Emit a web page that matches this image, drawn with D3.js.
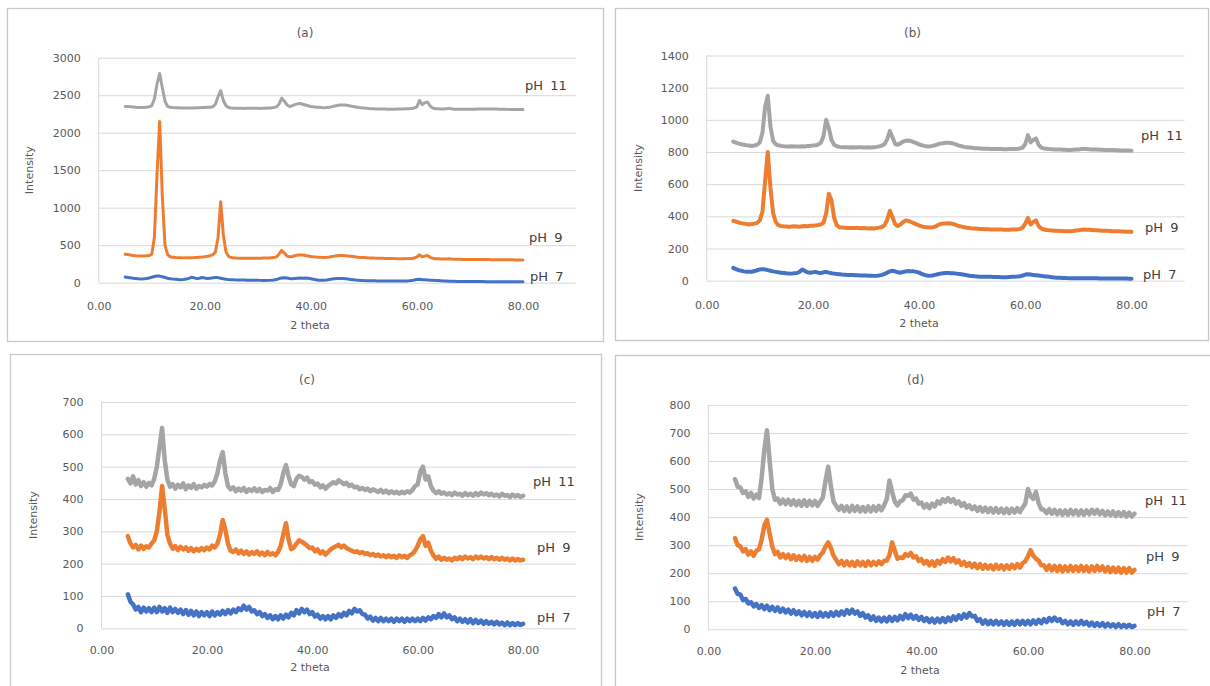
<!DOCTYPE html>
<html>
<head>
<meta charset="utf-8">
<script src="https://cdn.jsdelivr.net/npm/d3@7"></script>
<style>
  html, body { margin: 0; padding: 0; background: #ffffff; }
  svg { display: block; }
</style>
</head>
<body>
<script>
// XRD patterns (2 theta vs intensity) for samples prepared at pH 7, 9 and 11.
// Every pattern is sampled on the same 2-theta grid: 5.0 to 80.0 degrees, 0.5 degree step.
const twoTheta = d3.range(151).map(i => 5 + i * 0.5);

const panelLabels = ["(a)", "(b)", "(c)", "(d)"];
const seriesNames = ["pH 7", "pH 9", "pH 11"];
const xTickValues = [0, 20, 40, 60, 80];
const yTicksA = [0, 500, 1000, 1500, 2000, 2500, 3000];
const yTicksB = [0, 200, 400, 600, 800, 1000, 1200, 1400];
const yTicksC = [0, 100, 200, 300, 400, 500, 600, 700];
const yTicksD = [0, 100, 200, 300, 400, 500, 600, 700, 800];

// ---- (a) ----
const a_pH11 = [
  2350, 2348, 2345, 2342, 2338, 2336, 2335, 2336, 2340, 2345,
  2360, 2450, 2650, 2790, 2600, 2420, 2350, 2338, 2335, 2333,
  2332, 2330, 2330, 2331, 2330, 2329, 2330, 2332, 2333, 2335,
  2336, 2338, 2340, 2345, 2380, 2480, 2560, 2430, 2360, 2335,
  2328, 2326, 2325, 2326, 2325, 2324, 2325, 2326, 2325, 2326,
  2325, 2324, 2325, 2326, 2328, 2330, 2335, 2345, 2380, 2460,
  2420, 2370, 2350, 2360, 2375, 2385, 2390, 2380, 2370, 2360,
  2350, 2345, 2340, 2338, 2335, 2333, 2335, 2340, 2348, 2355,
  2362, 2368, 2370, 2368, 2362, 2355, 2348, 2342, 2336, 2332,
  2328, 2325, 2322, 2320, 2318, 2317, 2316, 2315, 2315, 2314,
  2314, 2313, 2314, 2315, 2315, 2316, 2318, 2320, 2324, 2330,
  2345, 2430, 2375, 2400, 2410, 2355, 2330, 2320, 2318, 2316,
  2315, 2318, 2325, 2318, 2314, 2312, 2313, 2314, 2313, 2312,
  2312, 2313, 2314, 2315, 2316, 2316, 2315, 2316, 2317, 2316,
  2315, 2314, 2313, 2312, 2311, 2310, 2311, 2310, 2309, 2308,
  2308
];
const a_pH9 = [
  380, 375, 368, 362, 358, 356, 355, 356, 358, 362,
  380, 600, 1450, 2150, 1150, 500, 375, 345, 338, 335,
  333, 332, 331, 332, 333, 334, 335, 337, 340, 343,
  347, 352, 360, 372, 410, 600, 1080, 640, 410, 350,
  335, 330, 328, 327, 326, 326, 327, 326, 325, 326,
  326, 327, 328, 329, 330, 332, 335, 345, 380, 430,
  395, 355, 345, 350, 360, 368, 370, 368, 362, 356,
  350, 345, 342, 340, 338, 337, 338, 342, 348, 355,
  360, 362, 362, 360, 356, 352, 348, 344, 340, 337,
  335, 333, 331, 330, 328, 327, 326, 325, 324, 323,
  322, 322, 321, 321, 320, 320, 321, 322, 324, 328,
  345, 372, 345, 355, 362, 338, 325, 320, 318, 316,
  315, 316, 318, 315, 313, 312, 312, 311, 311, 310,
  310, 310, 309, 309, 309, 308, 308, 308, 307, 307,
  307, 306, 306, 306, 305, 305, 305, 304, 304, 304,
  303
];
const a_pH7 = [
  75, 70, 65, 60, 56, 52, 50, 52, 56, 62,
  72, 82, 90, 88, 80, 70, 60, 52, 48, 45,
  42, 40, 42, 48, 58, 72, 65, 55, 60, 70,
  62, 55, 58, 65, 70, 68, 60, 52, 45, 42,
  40, 38, 37, 36, 35, 35, 34, 33, 33, 32,
  32, 31, 30, 30, 31, 33, 36, 42, 55, 62,
  66, 62, 55, 52, 56, 60, 62, 60, 62, 58,
  52, 45, 38, 34, 32, 33, 36, 42, 48, 52,
  55, 56, 55, 52, 48, 44, 40, 36, 33, 30,
  28, 27, 26, 25, 25, 24, 24, 24, 23, 23,
  23, 22, 22, 22, 22, 23, 24, 25, 28, 35,
  42, 45, 40, 38, 36, 34, 32, 30, 28, 26,
  24, 22, 20, 19, 18, 17, 17, 16, 16, 16,
  16, 15, 15, 15, 15, 15, 14, 14, 14, 14,
  14, 14, 14, 13, 13, 13, 13, 12, 12, 12,
  12
];

// ---- (b) ----
const b_pH11 = [
  865, 858, 852, 848, 845, 842, 840, 838, 840, 845,
  860, 920, 1080, 1150, 960, 870, 848, 842, 838, 836,
  835, 834, 836, 835, 834, 835, 836, 835, 837, 838,
  840, 842, 846, 858, 900, 1000, 950, 875, 845, 836,
  832, 830, 829, 830, 828, 829, 828, 830, 829, 828,
  828, 829, 828, 830, 832, 835, 840, 850, 880, 930,
  890, 850, 845, 855, 865, 870, 872, 868, 862, 855,
  848, 842, 838, 836, 835, 838, 842, 848, 852, 855,
  857, 858, 856, 852, 846, 840, 836, 832, 830, 828,
  826, 824, 823, 822, 821, 820, 820, 819, 819, 818,
  818, 818, 817, 817, 818, 818, 819, 820, 822, 828,
  850, 905, 860, 875, 885, 845, 828, 822, 820, 818,
  817, 816, 815, 815, 814, 814, 813, 813, 814, 815,
  816, 818, 819, 818, 817, 816, 815, 815, 814, 814,
  813, 813, 812, 812, 811, 811, 810, 810, 809, 809,
  808
];
const b_pH9 = [
  372, 368, 362, 358, 355, 352, 350, 352, 355, 360,
  375, 430, 620, 800, 580, 420, 365, 345, 340, 338,
  337, 336, 337, 338, 337, 336, 338, 340, 339, 341,
  342, 344, 346, 350, 360, 420, 540, 500, 390, 345,
  332, 330, 329, 328, 328, 327, 328, 327, 326, 327,
  326, 325, 326, 325, 327, 330, 334, 345, 380, 435,
  395, 350, 340, 350, 365, 375, 372, 365, 358, 350,
  343, 338, 334, 332, 330, 331, 336, 345, 352, 355,
  356, 357, 356, 352, 346, 340, 336, 332, 329, 327,
  325, 324, 323, 322, 321, 320, 320, 319, 319, 318,
  318, 318, 317, 317, 317, 318, 318, 319, 322, 330,
  355, 390, 350, 365, 375, 340, 325, 318, 315, 313,
  312, 311, 310, 309, 309, 308, 308, 308, 309, 312,
  314, 316, 318, 317, 316, 315, 314, 313, 312, 311,
  310, 310, 309, 308, 308, 307, 306, 306, 305, 305,
  304
];
const b_pH7 = [
  80, 72, 66, 62, 58, 56, 55, 56, 60, 65,
  70, 72, 70, 66, 62, 58, 55, 52, 50, 48,
  46, 45, 44, 46, 48, 55, 70, 60, 52, 50,
  52, 55, 50, 48, 52, 55, 50, 46, 44, 42,
  40, 38, 37, 36, 36, 35, 34, 34, 33, 32,
  32, 31, 31, 30, 31, 33, 36, 42, 50, 58,
  62, 58, 52, 50, 54, 58, 60, 58, 58, 55,
  50, 42, 36, 32, 30, 32, 36, 40, 44, 46,
  48, 48, 47, 46, 44, 42, 40, 37, 34, 31,
  29, 27, 26, 25, 25, 24, 24, 24, 23, 23,
  23, 22, 22, 22, 23, 24, 25, 26, 28, 32,
  38, 40, 38, 36, 34, 32, 30, 28, 26, 24,
  22, 20, 19, 18, 17, 17, 16, 16, 16, 16,
  16, 16, 15, 15, 15, 15, 15, 15, 14, 14,
  14, 14, 14, 14, 13, 13, 13, 13, 13, 12,
  12
];

// ---- (c) ----
const c_pH11 = [
  462, 448, 470, 445, 458, 440, 452, 438, 450, 442,
  462, 500, 560, 620, 520, 460, 438, 446, 432, 444,
  436, 448, 430, 442, 434, 446, 432, 440, 436, 444,
  438, 446, 442, 455, 480, 520, 545, 480, 440, 430,
  436, 424, 432, 426, 434, 422, 430, 425, 433, 424,
  431, 422, 428, 426, 434, 422, 430, 428, 445, 480,
  505, 470, 445, 440, 462, 472, 468, 460, 466, 452,
  455, 444, 448, 436, 442, 432, 440, 446, 452, 448,
  458, 452, 446, 450, 440, 444, 436, 438, 430, 434,
  428, 432, 424, 430, 426, 422, 428, 420, 426, 418,
  424, 418, 422, 416, 422, 418, 424, 420, 428, 440,
  445, 485, 500, 460, 470, 440, 425, 418, 424, 416,
  420, 414, 418, 412, 420, 414, 416, 410, 418, 412,
  416, 410, 418, 412, 420, 414, 418, 412, 416, 410,
  414, 408, 416, 410, 412, 406, 414, 408, 412, 406,
  410
];
const c_pH9 = [
  285, 262, 250, 258, 244, 256, 246, 254, 250, 262,
  272, 300, 360, 440, 370, 290, 262, 246, 254, 242,
  252, 244, 250, 240, 248, 238, 246, 240, 248, 242,
  250, 244, 256, 250, 262, 290, 335, 305, 262, 240,
  236, 244, 232, 240, 230, 238, 228, 236, 230, 238,
  228, 234, 226, 236, 228, 232, 226, 236, 255, 290,
  325, 275, 245, 250, 262, 272, 268, 262, 256, 248,
  250, 238, 244, 232, 238, 228, 236, 244, 250, 254,
  258, 250, 256, 248, 244, 240, 236, 238, 232, 236,
  230, 232, 226, 230, 224, 228, 222, 226, 220, 226,
  220, 224, 218, 226, 220, 224, 218, 226, 230, 240,
  255, 275, 285, 255, 265, 240, 225, 215, 222, 212,
  218, 212, 216, 210, 218, 214, 220, 214, 222, 216,
  220, 214, 222, 216, 222, 216, 220, 214, 220, 214,
  218, 212, 218, 212, 216, 210, 216, 210, 214, 210,
  212
];
const c_pH7 = [
  105, 82, 74, 58, 66, 50, 64, 52, 62, 50,
  64, 50, 66, 52, 62, 48, 64, 50, 60, 48,
  58, 44, 56, 42, 54, 40, 52, 38, 50, 40,
  50, 38, 52, 40, 50, 42, 54, 44, 56, 46,
  58, 50, 62, 56, 70, 58, 66, 52, 56, 44,
  50, 38, 44, 32, 40, 28, 38, 28, 40, 30,
  42, 34, 48, 40, 56, 46, 60, 50, 58, 44,
  50, 36, 42, 30, 38, 28, 38, 28, 40, 32,
  44, 36, 48, 40, 54, 46, 60, 52, 56, 44,
  42, 30, 36, 24, 32, 22, 32, 22, 30, 22,
  30, 20, 30, 22, 30, 20, 30, 22, 30, 22,
  30, 22, 32, 24, 34, 28, 38, 32, 44, 34,
  46, 34, 40, 28, 34, 22, 30, 20, 28, 18,
  28, 16, 26, 16, 24, 14, 22, 14, 20, 12,
  20, 12, 18, 10, 18, 10, 16, 10, 16, 10,
  14
];

// ---- (d) ----
const d_pH11 = [
  535, 508, 506, 486, 492, 472, 486, 466, 480, 468,
  540, 640, 710, 600, 500, 462, 466, 448, 462, 446,
  462, 444, 460, 442, 458, 440, 460, 440, 458, 442,
  458, 440, 456, 470, 530, 580, 510, 455, 440, 426,
  440, 422, 438, 420, 440, 422, 438, 420, 436, 420,
  438, 420, 438, 422, 440, 424, 442, 465, 530, 490,
  455, 442, 456, 460, 478, 476, 484, 462, 466, 448,
  452, 434, 446, 432, 448, 438, 456, 448, 464, 454,
  468, 454, 464, 448, 456, 440, 450, 434, 442, 428,
  438, 422, 436, 420, 434, 418, 432, 416, 432, 416,
  430, 414, 430, 414, 430, 416, 432, 418, 434, 448,
  500, 475, 465, 490, 450, 428, 426, 414, 428, 412,
  426, 410, 424, 408, 424, 408, 426, 410, 424, 408,
  424, 408, 424, 410, 426, 412, 426, 410, 422, 406,
  420, 406, 420, 404, 418, 404, 418, 402, 416, 402,
  412
];
const d_pH9 = [
  325, 300, 296, 278, 286, 266, 278, 262, 280, 285,
  320, 370, 390, 340, 295, 268, 276, 256, 268, 254,
  266, 250, 264, 248, 260, 246, 262, 244, 258, 244,
  258, 248, 264, 275, 295, 310, 290, 262, 248, 232,
  244, 228, 242, 228, 240, 226, 242, 228, 240, 226,
  242, 228, 240, 230, 242, 232, 244, 245, 265, 310,
  280, 252, 256, 254, 268, 262, 272, 256, 260, 244,
  250, 234, 244, 228, 242, 226, 244, 234, 250, 240,
  256, 242, 254, 238, 246, 230, 240, 226, 236, 222,
  234, 218, 232, 216, 230, 216, 228, 214, 230, 216,
  228, 214, 228, 216, 230, 218, 232, 220, 236, 242,
  260, 282, 262, 252, 245, 228, 228, 212, 228, 210,
  226, 208, 226, 206, 224, 208, 226, 208, 224, 208,
  226, 208, 224, 206, 224, 208, 226, 210, 224, 206,
  222, 204, 220, 204, 220, 202, 218, 202, 218, 202,
  212
];
const d_pH7 = [
  145, 126, 124, 104, 108, 92, 96, 82, 90, 76,
  86, 72, 84, 68, 80, 66, 78, 62, 74, 60,
  70, 56, 68, 54, 64, 50, 62, 48, 60, 46,
  58, 44, 60, 46, 58, 46, 60, 48, 62, 50,
  64, 52, 68, 56, 70, 56, 64, 48, 58, 42,
  50, 34, 46, 30, 42, 28, 42, 28, 44, 30,
  44, 32, 48, 36, 54, 40, 52, 38, 48, 34,
  44, 30, 40, 26, 38, 24, 38, 26, 40, 26,
  42, 30, 46, 34, 50, 38, 54, 42, 58, 46,
  48, 30, 36, 20, 32, 18, 30, 18, 30, 18,
  28, 16, 28, 16, 28, 16, 30, 18, 30, 18,
  30, 18, 32, 20, 34, 22, 36, 26, 40, 30,
  42, 30, 36, 22, 30, 18, 28, 16, 28, 18,
  30, 18, 26, 14, 24, 12, 22, 12, 22, 10,
  20, 10, 18, 8, 18, 8, 16, 8, 16, 8,
  12
];

const seriesColors = ["#4472C4", "#ED7D31", "#A5A5A5"];

// Page layout of the four chart boxes (pixels).
const panels = [
  { label: panelLabels[0], series: [a_pH7, a_pH9, a_pH11], yTicks: yTicksA,
    box: [7, 8, 596, 333], left: 98.7, right: 576, top: 57.7, bottom: 282.7,
    titleX: 305, titleY: 33, yTitleX: 29, tickY: 306, xTitleX: 310, xTitleY: 325,
    labelPos: [[530, 276], [529, 237], [525, 85]], stroke: 3 },
  { label: panelLabels[1], series: [b_pH7, b_pH9, b_pH11], yTicks: yTicksB,
    box: [615, 8, 593, 332], left: 706.7, right: 1184.6, top: 55.5, bottom: 280.7,
    titleX: 912.5, titleY: 32.5, yTitleX: 638, tickY: 305, xTitleX: 919, xTitleY: 323.5,
    labelPos: [[1143, 274], [1145, 227], [1141, 135.7]], stroke: 4 },
  { label: panelLabels[2], series: [c_pH7, c_pH9, c_pH11], yTicks: yTicksC,
    box: [10, 354, 591, 340], left: 101.5, right: 575.8, top: 402, bottom: 628.3,
    titleX: 307, titleY: 380, yTitleX: 33, tickY: 650, xTitleX: 310, xTitleY: 667,
    labelPos: [[537, 617], [537, 547.6], [533, 481.4]], stroke: 4.5 },
  { label: panelLabels[3], series: [d_pH7, d_pH9, d_pH11], yTicks: yTicksD,
    box: [615, 355, 600, 340], left: 708.4, right: 1187.7, top: 404.9, bottom: 629.3,
    titleX: 915.6, titleY: 380, yTitleX: 639, tickY: 651, xTitleX: 920, xTitleY: 670,
    labelPos: [[1147, 611.5], [1146, 556], [1145, 500.6]], stroke: 4.5 }
];

const FONT = "'DejaVu Sans', Verdana, sans-serif";

const svg = d3.select("body").append("svg")
  .attr("width", 1210)
  .attr("height", 686)
  .style("font-family", FONT);

svg.append("rect").attr("width", 1210).attr("height", 686).attr("fill", "#ffffff");

panels.forEach(p => {
  const g = svg.append("g");

  // chart box
  g.append("rect")
    .attr("x", p.box[0] + 0.5).attr("y", p.box[1] + 0.5)
    .attr("width", p.box[2]).attr("height", p.box[3])
    .attr("fill", "#ffffff")
    .attr("stroke", "#c9c9c9")
    .attr("stroke-width", 1.3);

  const yMax = p.yTicks[p.yTicks.length - 1];
  const x = d3.scaleLinear().domain([0, 90]).range([p.left, p.right]);
  const y = d3.scaleLinear().domain([0, yMax]).range([p.bottom, p.top]);

  // value axis with horizontal gridlines
  const yAxis = g.append("g")
    .attr("transform", `translate(${p.left},0)`)
    .call(d3.axisLeft(y).tickValues(p.yTicks).tickSize(-(p.right - p.left)).tickPadding(18)
      .tickFormat(d3.format("d")));
  yAxis.select(".domain").remove();
  yAxis.selectAll(".tick line").attr("stroke", "#d9d9d9").attr("stroke-width", 1);
  yAxis.selectAll(".tick text").attr("fill", "#595959").style("font-size", "11px")
    .style("font-family", FONT);

  // vertical axis line at the left edge of the plot
  g.append("line")
    .attr("x1", p.left).attr("x2", p.left)
    .attr("y1", p.top).attr("y2", p.bottom)
    .attr("stroke", "#d9d9d9").attr("stroke-width", 1);

  // category axis labels
  const xAxis = g.append("g")
    .attr("transform", `translate(0,${p.bottom})`)
    .call(d3.axisBottom(x).tickValues(xTickValues).tickSize(0)
      .tickPadding(p.tickY - p.bottom - 4).tickFormat(d3.format(".2f")));
  xAxis.select(".domain").remove();
  xAxis.selectAll(".tick text").attr("fill", "#595959").style("font-size", "11px")
    .style("font-family", FONT);

  // patterns
  const line = d3.line()
    .x((d, i) => x(twoTheta[i]))
    .y(d => y(d));

  p.series.forEach((vals, k) => {
    g.append("path")
      .datum(vals)
      .attr("d", line)
      .attr("fill", "none")
      .attr("stroke", seriesColors[k])
      .attr("stroke-width", p.stroke)
      .attr("stroke-linejoin", "round")
      .attr("stroke-linecap", "round");
  });

  // series labels
  p.labelPos.forEach((pos, k) => {
    g.append("text")
      .attr("x", pos[0]).attr("y", pos[1])
      .attr("dy", "0.35em")
      .attr("fill", "#404040")
      .style("font-size", "13px")
      .style("word-spacing", "3px")
      .text(seriesNames[k]);
  });

  // chart title
  g.append("text")
    .attr("x", p.titleX).attr("y", p.titleY)
    .attr("dy", "0.35em")
    .attr("text-anchor", "middle")
    .attr("fill", "#595959")
    .style("font-size", "12px")
    .text(p.label);

  // axis titles
  g.append("text")
    .attr("transform", `translate(${p.yTitleX},${(p.top + p.bottom) / 2}) rotate(-90)`)
    .attr("dy", "0.35em")
    .attr("text-anchor", "middle")
    .attr("fill", "#595959")
    .style("font-size", "11px")
    .text("Intensity");

  g.append("text")
    .attr("x", p.xTitleX).attr("y", p.xTitleY)
    .attr("dy", "0.35em")
    .attr("text-anchor", "middle")
    .attr("fill", "#595959")
    .style("font-size", "11px")
    .text("2 theta");
});
</script>
</body>
</html>
